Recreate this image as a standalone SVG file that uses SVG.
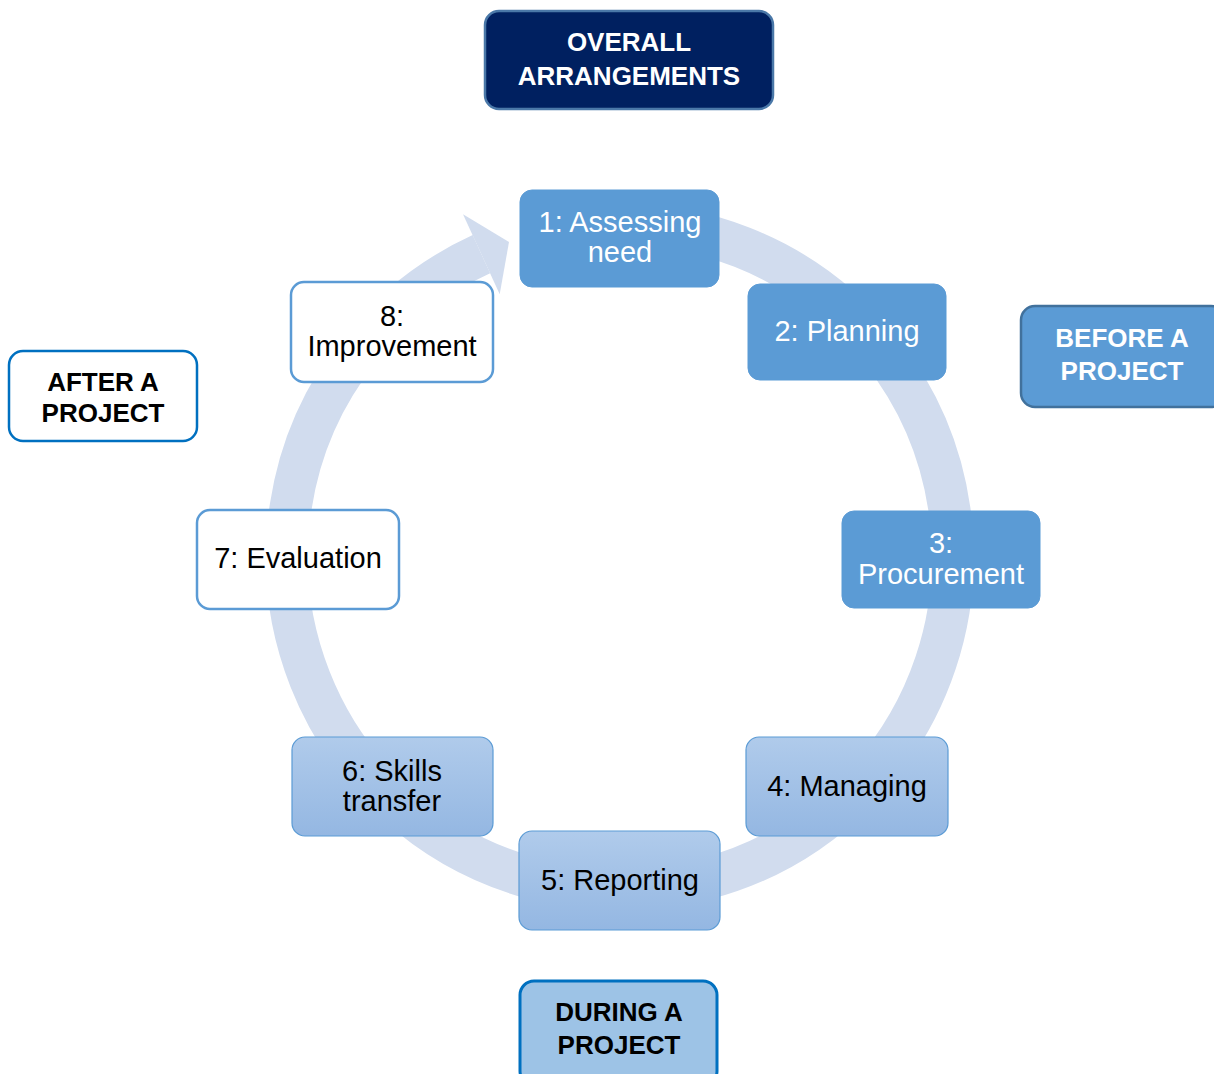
<svg xmlns="http://www.w3.org/2000/svg" width="1214" height="1074" viewBox="0 0 1214 1074">
<defs>
<linearGradient id="lg" x1="0" y1="0" x2="0" y2="1">
<stop offset="0" stop-color="#B0CBEB"/>
<stop offset="1" stop-color="#94B7E2"/>
</linearGradient>
<style>
text{font-family:"Liberation Sans",Arial,sans-serif;text-anchor:middle;dominant-baseline:central}
.step{font-size:29px}
.hdr{font-size:26px;font-weight:bold}
.dark{fill:#5B9BD5;stroke:#5B9BD5;stroke-width:1}
.grad{fill:url(#lg);stroke:#5B9BD5;stroke-width:1.2}
.white{fill:#FFFFFF;stroke:#5B9BD5;stroke-width:2.5}
.w{fill:#FFFFFF}
.k{fill:#000000}
</style>
</defs>
<rect width="1214" height="1074" fill="#FFFFFF"/>
<g id="connectors">
<path d="M591,225.3 A333,333 0 1 1 481.4,254.2" fill="none" stroke="#D1DCEE" stroke-width="42"/>
<polygon points="463,214.2 509,242 499.7,294.2" fill="#D1DCEE"/>
</g>
<g id="overall">
<rect x="485" y="11" width="288" height="98" rx="14" fill="#002060" stroke="#4A78A8" stroke-width="2.5"/>
<text class="hdr w" x="629" y="42">OVERALL</text>
<text class="hdr w" x="629" y="76">ARRANGEMENTS</text>
</g>
<g id="before">
<rect x="1021" y="306" width="204" height="101" rx="14" fill="#5B9BD5" stroke="#41719C" stroke-width="2.5"/>
<text class="hdr w" x="1122" y="338">BEFORE A</text>
<text class="hdr w" x="1122" y="371">PROJECT</text>
</g>
<g id="after">
<rect x="9" y="351" width="188" height="90" rx="14" fill="#FFFFFF" stroke="#0070C0" stroke-width="2.5"/>
<text class="hdr k" x="103" y="382">AFTER A</text>
<text class="hdr k" x="103" y="413">PROJECT</text>
</g>
<g id="during">
<rect x="520" y="981" width="197" height="104" rx="14" fill="#9DC3E6" stroke="#0070C0" stroke-width="3"/>
<text class="hdr k" x="619" y="1012">DURING A</text>
<text class="hdr k" x="619" y="1045">PROJECT</text>
</g>
<g id="n1">
<rect class="dark" x="520" y="190" width="199" height="97" rx="12"/>
<text class="step w" x="620" y="222">1: Assessing</text>
<text class="step w" x="620" y="252">need</text>
</g>
<g id="n2">
<rect class="dark" x="748" y="284" width="198" height="96" rx="12"/>
<text class="step w" x="847" y="331">2: Planning</text>
</g>
<g id="n3">
<rect class="dark" x="842" y="511" width="198" height="97" rx="12"/>
<text class="step w" x="941" y="543">3:</text>
<text class="step w" x="941" y="574">Procurement</text>
</g>
<g id="n4">
<rect class="grad" x="746" y="737" width="202" height="99" rx="13"/>
<text class="step k" x="847" y="786">4: Managing</text>
</g>
<g id="n5">
<rect class="grad" x="519" y="831" width="201" height="99" rx="13"/>
<text class="step k" x="620" y="880">5: Reporting</text>
</g>
<g id="n6">
<rect class="grad" x="292" y="737" width="201" height="99" rx="13"/>
<text class="step k" x="392" y="771">6: Skills</text>
<text class="step k" x="392" y="801">transfer</text>
</g>
<g id="n7">
<rect class="white" x="197" y="510" width="202" height="99" rx="13"/>
<text class="step k" x="298" y="558">7: Evaluation</text>
</g>
<g id="n8">
<rect class="white" x="291" y="282" width="202" height="100" rx="13"/>
<text class="step k" x="392" y="316">8:</text>
<text class="step k" x="392" y="346">Improvement</text>
</g>
</svg>
